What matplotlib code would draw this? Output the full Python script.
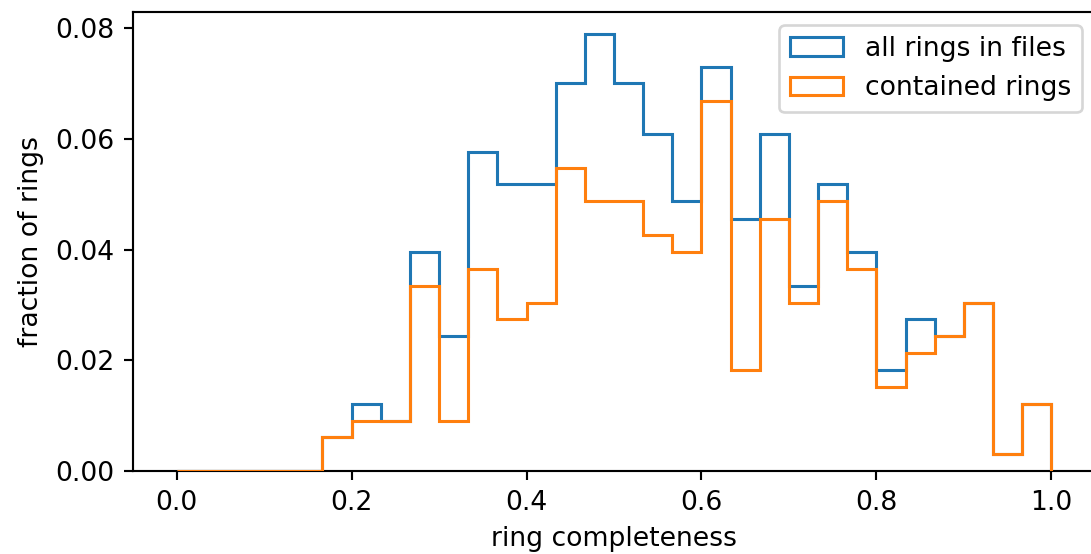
import numpy as np
import matplotlib
matplotlib.use("Agg")
import matplotlib.pyplot as plt

# 30 equal bins between 0 and 1
bin_edges = np.linspace(0.0, 1.0, 31)

all_rings = [0, 0, 0, 0, 0,
             0.0061, 0.0121, 0.0091, 0.0396, 0.0243,
             0.0577, 0.0518, 0.0518, 0.0700, 0.0790,
             0.0700, 0.0608, 0.0487, 0.0730, 0.0456,
             0.0608, 0.0335, 0.0518, 0.0396, 0.0183,
             0.0274, 0.0243, 0.0304, 0.0030, 0.0121]

contained_rings = [0, 0, 0, 0, 0,
                   0.0061, 0.0091, 0.0091, 0.0335, 0.0091,
                   0.0365, 0.0274, 0.0304, 0.0548, 0.0487,
                   0.0487, 0.0426, 0.0396, 0.0669, 0.0183,
                   0.0456, 0.0304, 0.0487, 0.0365, 0.0152,
                   0.0213, 0.0243, 0.0304, 0.0030, 0.0121]

labels = ["all rings in files", "contained rings"]

dpi = 192
fig = plt.figure(figsize=(1091 / dpi, 554 / dpi), dpi=dpi)
ax = fig.add_axes([133 / 1091, 83 / 554, (1095 - 133) / 1091, (471 - 12) / 554])

centers = 0.5 * (bin_edges[:-1] + bin_edges[1:])
ax.hist(centers, bins=bin_edges, weights=all_rings, histtype="step",
        color="#1f77b4", linewidth=1.15, label=labels[0], zorder=3)
ax.hist(centers, bins=bin_edges, weights=contained_rings, histtype="step",
        color="#ff7f0e", linewidth=1.15, label=labels[1], zorder=3)

ax.set_xlim(-0.05, 1.05)
ax.set_ylim(0, 0.0829)
ax.set_yticks([0, 0.02, 0.04, 0.06, 0.08])
ax.set_xlabel("ring completeness")
ax.set_ylabel("fraction of rings")
ax.legend(loc="upper right")

fig.savefig("out.png", dpi=dpi)
